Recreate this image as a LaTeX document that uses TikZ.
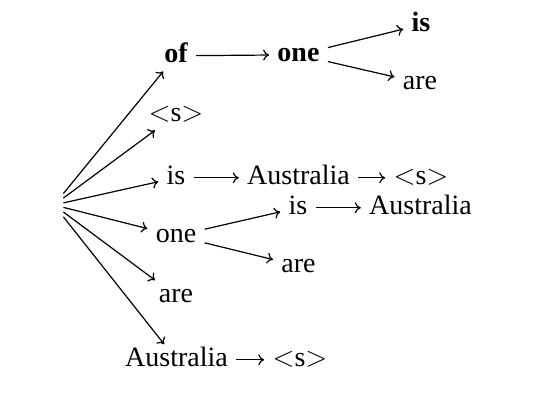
\documentclass[tikz,border=0pt]{standalone}
\usepackage{fontspec}
\setmainfont{Liberation Serif}
\usetikzlibrary{arrows.meta}
\begin{document}
\begin{tikzpicture}[x=0.5pt,y=-0.5pt,
  word/.style={anchor=base,inner sep=4pt,text height=0.72em,text depth=0pt,font=\fontsize{14}{16}\selectfont},
  bword/.style={word,font=\fontsize{14}{16}\selectfont\bfseries},
  link/.style={-{To[length=3pt,width=5.5pt]},line width=0.6pt}]
\useasboundingbox (0,0) rectangle (543,400);
\newcommand\eos{$<$s$>$}
\node[minimum width=9pt,minimum height=12pt,inner sep=0pt] (root) at (54,205) {};
% column 1
\node[bword] (of) at (176,63) {of};
\node[word] (s1) at (176,122) {\eos};
\node[word] (is1) at (176,185) {is};
\node[word] (one1) at (176,243) {one};
\node[word] (are1) at (176,303) {are};
\node[word] (aus1) at (176.5,367) {Australia};
% column 2
\node[bword] (one2) at (298.5,62) {one};
\node[word] (aus2) at (298.5,185) {Australia};
\node[word] (is2) at (298,215) {is};
\node[word] (are2) at (298.5,273) {are};
\node[word] (s2b) at (300,367) {\eos};
% column 3
\node[bword] (is3) at (421,32) {is};
\node[word] (are3) at (420,90) {are};
\node[word] (s3) at (421,185) {\eos};
\node[word] (aus3) at (420.5,215) {Australia};
% connectors
\foreach \t in {of,s1,is1,one1,are1,aus1} \draw[link] (root) -- (\t);
\draw[link] (of) -- (one2);
\draw[link] (one2) -- (is3);
\draw[link] (one2) -- (are3);
\draw[link] (is1) -- (aus2);
\draw[link] (aus2) -- (s3);
\draw[link] (one1) -- (is2);
\draw[link] (one1) -- (are2);
\draw[link] (is2) -- (aus3);
\draw[link] (aus1) -- (s2b);
\end{tikzpicture}
\end{document}
